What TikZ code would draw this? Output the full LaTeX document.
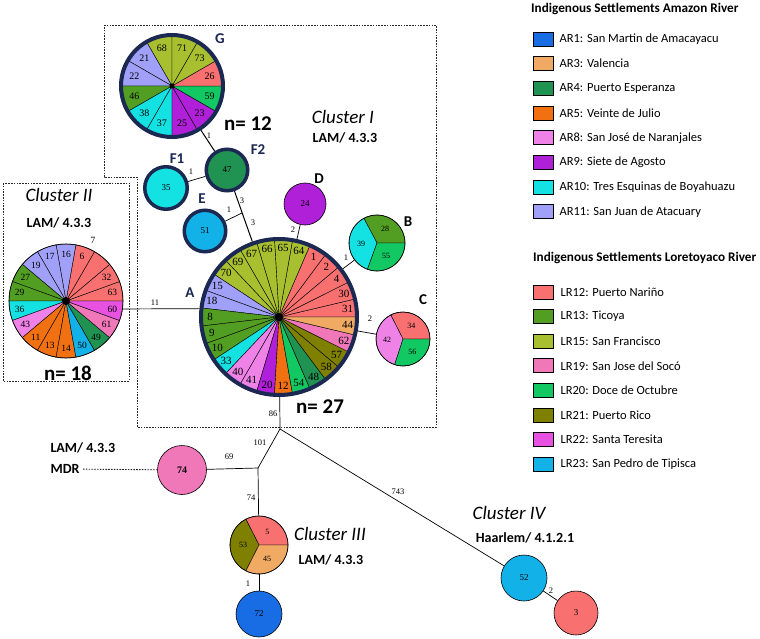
\documentclass[tikz,border=0pt]{standalone}
\usepackage{fontspec}
\setmainfont{Carlito}
\newfontfamily\numfont{Liberation Serif}
\usetikzlibrary{positioning}

% Farben der Siedlungen
\definecolor{ar1}{RGB}{24,108,228}
\definecolor{ar3}{RGB}{240,170,100}
\definecolor{ar4}{RGB}{32,146,82}
\definecolor{ar5}{RGB}{240,112,18}
\definecolor{ar8}{RGB}{238,130,230}
\definecolor{ar9}{RGB}{176,32,216}
\definecolor{ar10}{RGB}{20,226,226}
\definecolor{ar11}{RGB}{160,160,248}
\definecolor{lr12}{RGB}{248,112,112}
\definecolor{lr13}{RGB}{82,158,34}
\definecolor{lr15}{RGB}{168,192,48}
\definecolor{lr19}{RGB}{240,120,184}
\definecolor{lr20}{RGB}{18,200,98}
\definecolor{lr21}{RGB}{128,128,0}
\definecolor{lr22}{RGB}{232,82,224}
\definecolor{lr23}{RGB}{18,178,232}
\definecolor{navy}{RGB}{26,40,82}

\newcommand{\fsz}[1]{\fontsize{#1}{#1}\selectfont}
\newcommand{\slice}[5]{\filldraw[fill=#5, draw=black, line width=0.4pt] (#1) -- ++(#3:#2pt) arc[start angle=#3, end angle=#4, radius=#2pt] -- cycle;}
\newcommand{\piechart}[7]{%
  \foreach \col/\lab [count=\i from 0] in {#7} {
    \pgfmathsetmacro\wa{#4+\i*#5}
    \pgfmathsetmacro\wb{\wa+#5}
    \pgfmathsetmacro\wm{\wa+#5/2}
    \slice{#1}{#2}{\wa}{\wb}{\col}
    \path (#1) ++(\wm:#3pt) node[#6] {\lab};
  }}

\begin{document}
\begin{tikzpicture}[x=1pt, y=-1pt,
	ring/.style={circle, draw=navy, line width=4pt, inner sep=0pt},
	thinring/.style={circle, draw=black, line width=0.6pt, inner sep=0pt},
	hapnode/.style={circle, draw=black, line width=0.6pt, inner sep=0pt, font=\numfont\fsz{9}},
	boldhap/.style={hapnode, draw=navy, line width=3.5pt},
	wlabel/.style={font=\numfont\fsz{8.5}, inner sep=1pt},
	seglabel/.style={font=\numfont\fsz{11}, inner sep=0pt},
	clusterlabel/.style={font=\itshape\fsz{19}},
	lineagelabel/.style={font=\bfseries\fsz{14}},
	countlabel/.style={font=\bfseries\fsz{21}},
	letterlabel/.style={font=\bfseries\fsz{15}, text=navy},
	clusterbox/.style={draw=black!85, line width=0.9pt, dash pattern=on 1.6pt off 1.2pt},
	legbox/.style={draw=black, line width=0.8pt, minimum width=20pt, minimum height=14pt, inner sep=0pt},
	legtext/.style={font=\fsz{12.5}, anchor=west, inner sep=0pt},
	legtitle/.style={font=\bfseries\fsz{13.2}, anchor=west, inner sep=0pt},
	link/.style={line width=0.7pt}
]
\useasboundingbox (0,0) rectangle (760,639);

% Rahmen der Cluster
\draw[clusterbox] (104,25) -- (436,25) -- (436,427) -- (137,427) -- (137,177) -- (104,177) -- cycle;
\draw[clusterbox] (3,183) rectangle (129,381);

% Cluster I
\coordinate (Ac) at (279,317);
\piechart{Ac}{78}{69}{0}{13.3333}{seglabel}{lr12/31, lr12/30, lr12/4, lr12/2, lr12/1, lr15/64, lr15/65, lr15/66, lr15/67, lr15/69, lr15/70, ar11/15, ar11/18, lr13/8, lr13/9, lr13/10, ar10/33, ar8/40, ar8/41, ar9/20, ar5/12, lr20/54, ar4/48, lr21/58, lr21/57, lr19/62, ar3/44}
\fill (Ac) circle (4pt);
\node[ring, minimum size=156pt] (A) at (Ac) {};

\coordinate (Gc) at (172,86);
\piechart{Gc}{51}{39}{90}{30}{seglabel, font=\numfont\fsz{10}}{lr15/68, ar11/21, ar11/22, lr13/46, ar10/38, ar10/37, ar9/25, ar9/23, lr20/59, lr12/26, lr15/73, lr15/71}
\fill (Gc) circle (2.5pt);
\node[ring, minimum size=102pt] (G) at (Gc) {};

\node[boldhap, fill=ar4, minimum size=41.5pt] (F2) at (227,170) {47};
\node[boldhap, fill=ar10, minimum size=42.5pt] (F1) at (166,188) {35};
\node[boldhap, fill=lr23, minimum size=41.5pt] (E) at (205,231) {51};
\node[hapnode, fill=ar9, minimum size=42pt] (D) at (305,204) {24};

\coordinate (Bc) at (377,243);
\slice{Bc}{28}{0}{118}{lr13}
\slice{Bc}{28}{118}{250}{ar10}
\slice{Bc}{28}{250}{360}{lr20}
\node[thinring, minimum size=56pt] (B) at (Bc) {};
\path (Bc) ++(59:16pt) node[font=\numfont\fsz{8}] {28};
\path (Bc) ++(184:16pt) node[font=\numfont\fsz{8}] {39};
\path (Bc) ++(305:16pt) node[font=\numfont\fsz{8}] {55};

\coordinate (Cc) at (403,339);
\slice{Cc}{27}{0}{117}{lr12}
\slice{Cc}{27}{117}{252}{ar8}
\slice{Cc}{27}{252}{360}{lr20}
\node[thinring, minimum size=54pt] (C) at (Cc) {};
\path (Cc) ++(58:16pt) node[font=\numfont\fsz{8}] {34};
\path (Cc) ++(184:16pt) node[font=\numfont\fsz{8}] {42};
\path (Cc) ++(306:16pt) node[font=\numfont\fsz{8}] {56};

% Cluster II
\coordinate (IIc) at (66,301);
\piechart{IIc}{57}{47}{0}{20}{seglabel, font=\numfont\fsz{9.5}}{lr12/63, lr12/32, lr12/{}, lr12/6, ar11/16, ar11/17, ar11/19, lr13/27, lr13/29, ar10/36, ar8/43, ar5/11, ar5/13, ar5/14, lr23/50, ar4/49, lr19/61, lr22/60}
\fill (IIc) circle (4pt);
\node[thinring, minimum size=114pt] (II) at (IIc) {};
\node[seglabel, font=\numfont\fsz{9.5}] (seven) at (93,240) {7};

% Verbindungen Cluster I/II
\coordinate (jE) at (242,213);
\draw[link, line width=1pt] (G) -- (F2);
\draw[link] (F1) -- (F2);
\draw[link, line width=1pt] (F2) -- (A);
\draw[link] (E) -- (jE);
\draw[link] (D) -- (A);
\draw[link] (B) -- (A);
\draw[link] (C) -- (A);
\draw[link] (II.-8) -- (A.174);

% Cluster III/IV
\coordinate (j1) at (280,429);
\coordinate (j2) at (258,468);
\node[hapnode, fill=lr19, minimum size=49pt, font=\numfont\bfseries\fsz{10}] (h74) at (182,470) {74};
\coordinate (IIIc) at (259,545);
\slice{IIIc}{29}{0}{117}{lr12}
\slice{IIIc}{29}{117}{243}{lr21}
\slice{IIIc}{29}{243}{360}{ar3}
\node[thinring, minimum size=58pt] (III) at (IIIc) {};
\path (IIIc) ++(58:16pt) node[font=\numfont\fsz{8}] {5};
\path (IIIc) ++(180:16pt) node[font=\numfont\fsz{8}] {53};
\path (IIIc) ++(301:16pt) node[font=\numfont\fsz{8}] {45};
\node[hapnode, fill=ar1, minimum size=46pt] (h72) at (259,614) {72};
\node[hapnode, fill=lr23, minimum size=46pt] (h52) at (524,578) {52};
\node[hapnode, fill=lr12, minimum size=44pt] (h3) at (576,613) {3};

\draw[link] (A) -- (j1);
\draw[link] (j1) -- (j2);
\draw[link] (j2) -- (h74);
\draw[link] (j2) -- (III);
\draw[link] (III) -- (h72);
\draw[link] (j1) -- (h52);
\draw[link] (h52) -- (h3);

\node[lineagelabel, anchor=west] (mdrlam) at (47,448) {LAM/ 4.3.3};
\node[lineagelabel, anchor=west] (mdr) at (47,469) {MDR};
\draw[clusterbox] (mdr) -- (h74);

% Gewichte
\node[wlabel] at (209,136) {1};
\node[wlabel] at (191,172) {1};
\node[wlabel] at (242,201) {3};
\node[wlabel] at (253,223) {3};
\node[wlabel] at (229,210) {1};
\node[wlabel] at (293,230) {2};
\node[wlabel] at (346,258) {1};
\node[wlabel] at (370,319) {2};
\node[wlabel] at (155,303) {11};
\node[wlabel] at (273,414) {86};
\node[wlabel] at (260,443) {101};
\node[wlabel] at (229,457) {69};
\node[wlabel] at (251,498) {74};
\node[wlabel] at (248,584) {1};
\node[wlabel] at (398,492) {743};
\node[wlabel] at (551,591) {2};

% Beschriftung
\node[letterlabel] at (220,39) {G};
\node[letterlabel] at (258,150) {F2};
\node[letterlabel] at (177,159) {F1};
\node[letterlabel] at (202,199) {E};
\node[letterlabel] at (190,293) {A};
\node[letterlabel, text=black] at (319,179) {D};
\node[letterlabel, text=black] at (408,222) {B};
\node[letterlabel, text=black] at (423,300) {C};
\node[countlabel] at (248,124) {n= 12};
\node[countlabel] at (320,407) {n= 27};
\node[countlabel] at (68,373) {n= 18};

\node[clusterlabel] at (343,117) {Cluster I};
\node[lineagelabel] at (345,138) {LAM/ 4.3.3};
\node[clusterlabel] at (59,195) {Cluster II};
\node[lineagelabel] at (59,223) {LAM/ 4.3.3};
\node[clusterlabel] at (330,534) {Cluster III};
\node[lineagelabel] at (331,560) {LAM/ 4.3.3};
\node[clusterlabel] at (509,513) {Cluster IV};
\node[lineagelabel] at (525,538) {Haarlem/ 4.1.2.1};

% Legende
\node[legtitle] (amtitle) at (531,9) {Indigenous Settlements Amazon River};
\foreach \col/\lab [count=\i from 0] in {ar1/{AR1: San Martin de Amacayacu}, ar3/{AR3: Valencia}, ar4/{AR4: Puerto Esperanza}, ar5/{AR5: Veinte de Julio}, ar8/{AR8: San José de Naranjales}, ar9/{AR9: Siete de Agosto}, ar10/{AR10: Tres Esquinas de Boyahuazu}, ar11/{AR11: San Juan de Atacuary}} {
	\node[legbox, fill=\col] (legA\i) at (543,{39+24.7*\i}) {};
	\node[legtext, right=6pt of legA\i] {\lab};
}
\node[legtitle] (lotitle) at (533,258) {Indigenous Settlements Loretoyaco River};
\foreach \col/\lab [count=\i from 0] in {lr12/{LR12: Puerto Nariño}, lr13/{LR13: Ticoya}, lr15/{LR15: San Francisco}, lr19/{LR19: San Jose del Socó}, lr20/{LR20: Doce de Octubre}, lr21/{LR21: Puerto Rico}, lr22/{LR22: Santa Teresita}, lr23/{LR23: San Pedro de Tipisca}} {
	\node[legbox, fill=\col] (legL\i) at (543,{292+24.6*\i}) {};
	\node[legtext, right=7pt of legL\i] {\lab};
}

\end{tikzpicture}
\end{document}
